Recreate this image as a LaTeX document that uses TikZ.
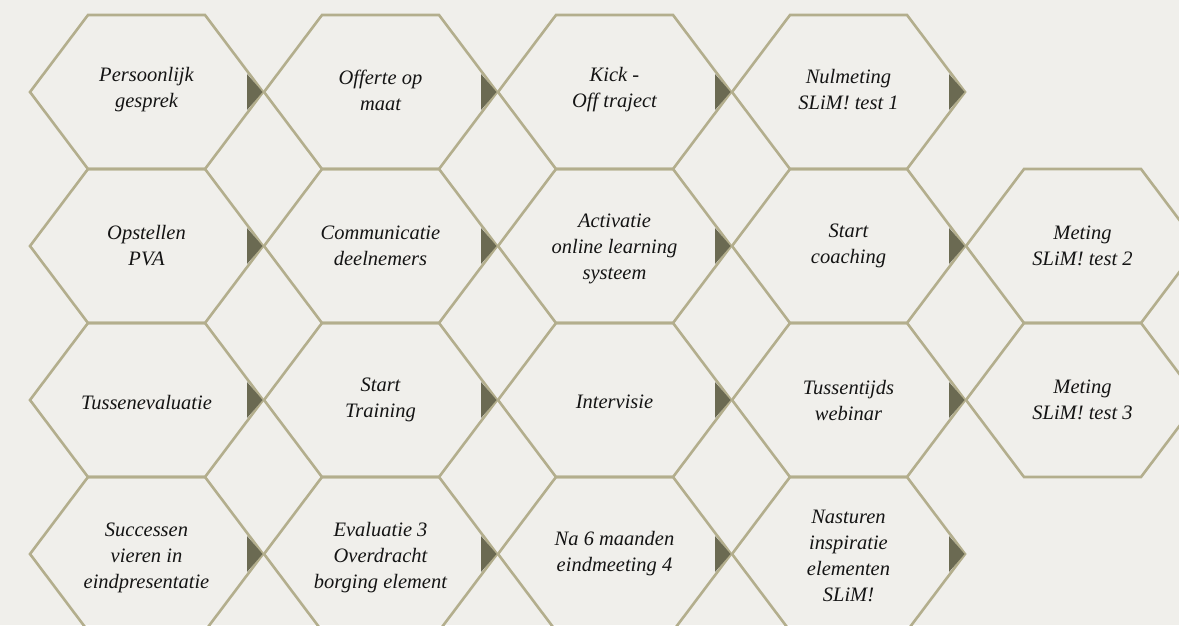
\documentclass[tikz,border=0pt]{standalone}
\usepackage{fontspec}
\setmainfont{Liberation Serif}
\definecolor{paper}{HTML}{F0EFEB}
\definecolor{hexline}{HTML}{B3AE8D}
\definecolor{pointer}{HTML}{6B6A52}
\definecolor{ink}{HTML}{141414}

\begin{document}
\begin{tikzpicture}[x=1pt,y=-1pt]
				\tikzstyle{every node} = [font=\itshape\fontsize{20.5}{26}\selectfont,align=center,text=ink];
				\tikzstyle{hexa} = [draw=hexline,line width=2.6pt,line join=miter];
				\fill[paper] (0,0) rectangle (1179,625);
				\useasboundingbox (0,0) rectangle (1179,625);
				% hexagons
				\foreach \cx/\cy in {146.5/92,380.5/92,614.5/92,848.5/92,
					146.5/246,380.5/246,614.5/246,848.5/246,1082.5/246,
					146.5/400,380.5/400,614.5/400,848.5/400,1082.5/400,
					146.5/554,380.5/554,614.5/554,848.5/554}
					\draw[hexa] (\cx-116.5,\cy) -- ++(58,-77) -- ++(117,0) -- ++(58,77) -- ++(-58,77) -- ++(-117,0) -- cycle;
				% pointers
				\foreach \cx in {146.5,380.5,614.5,848.5}
					\foreach \cy in {92,246,400,554}
						\fill[pointer] (\cx+100.5,\cy-18) -- (\cx+116,\cy) -- (\cx+100.5,\cy+18) -- cycle;
				% row 1
				\node (gesprek) at (146.5, 90) {Persoonlijk\\gesprek};
				\node (offerte) at (380.5, 90) {Offerte op\\maat};
				\node (kickoff) at (614.5, 90) {Kick -\\Off traject};
				\node (nulmeting) at (848.5, 90) {Nulmeting\\SLiM! test 1};
				% row 2
				\node (pva) at (146.5, 246) {Opstellen\\PVA};
				\node (communicatie) at (380.5, 246) {Communicatie\\deelnemers};
				\node (activatie) at (614.5, 249) {Activatie\\online learning\\systeem};
				\node (coaching) at (848.5, 246) {Start\\coaching};
				\node (meting2) at (1082.5, 246) {Meting\\SLiM! test 2};
				% row 3
				\node (tussenevaluatie) at (146.5, 402) {Tussenevaluatie};
				\node (training) at (380.5, 400) {Start\\Training};
				\node (intervisie) at (614.5, 402) {Intervisie};
				\node (webinar) at (848.5, 400) {Tussentijds\\webinar};
				\node (meting3) at (1082.5, 400) {Meting\\SLiM! test 3};
				% row 4
				\node (successen) at (146.5, 558) {Successen\\vieren in\\eindpresentatie};
				\node (evaluatie) at (380.5, 558) {Evaluatie 3\\Overdracht\\borging element};
				\node (eindmeeting) at (614.5, 554) {Na 6 maanden\\eindmeeting 4};
				\node (nasturen) at (848.5, 556) {Nasturen\\inspiratie\\elementen\\SLiM!};
			\end{tikzpicture}
\end{document}
